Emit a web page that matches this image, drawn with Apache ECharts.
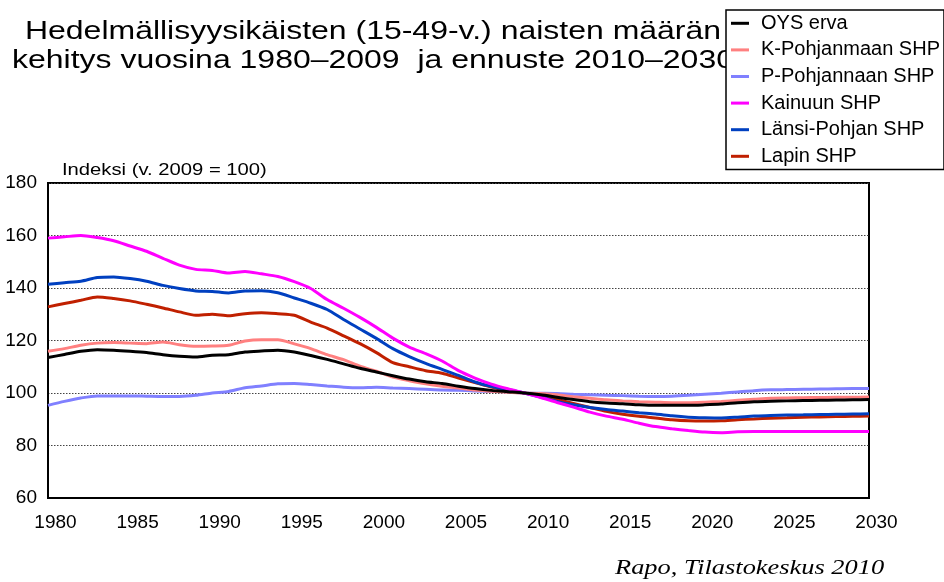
<!DOCTYPE html>
<html>
<head>
<meta charset="utf-8">
<script src="https://cdn.jsdelivr.net/npm/echarts@6/dist/echarts.min.js"></script>
<style>
html,body{margin:0;padding:0;background:#fff;}
#c{width:944px;height:582px;}
</style>
</head>
<body>
<div id="c"></div>
<script>
const years = [];
for (let y = 1980; y <= 2030; y++) years.push(y);

const seriesNames = ['OYS erva', 'K-Pohjanmaan SHP', 'P-Pohjannaan SHP', 'Kainuun SHP', 'Länsi-Pohjan SHP', 'Lapin SHP'];

const oysErva = [113.5,114.7,115.9,116.5,116.3,115.9,115.4,114.6,114.0,113.7,
  114.4,114.6,115.6,116.0,116.3,115.6,114.3,112.8,111.1,109.4,
  108.0,106.6,105.3,104.3,103.6,102.6,101.7,101.0,100.5,100.0,
  99.3,98.4,97.5,96.7,96.2,95.9,95.5,95.3,95.3,95.3,
  95.5,95.8,96.3,96.7,96.9,97.0,97.1,97.2,97.3,97.4,97.5];

const kPohjanmaa = [115.9,116.9,118.2,119.0,119.2,119.0,118.8,119.4,118.4,117.8,
  117.9,118.2,119.8,120.3,120.3,118.7,116.9,114.6,112.7,110.2,
  108.3,106.1,104.7,103.5,102.6,101.9,101.1,100.7,100.3,100.0,
  99.8,99.3,98.6,98.0,97.4,97.0,96.7,96.5,96.3,96.3,
  96.5,96.8,97.2,97.6,98.0,98.1,98.2,98.3,98.4,98.4,98.5];

const pPohjanmaa = [95.3,96.8,98.1,98.9,98.9,98.9,98.8,98.7,98.7,99.1,
  100.0,100.6,102.0,102.7,103.5,103.6,103.2,102.7,102.2,102.0,
  102.2,101.9,101.7,101.4,101.1,101.0,100.8,100.6,100.4,100.0,
  99.9,99.8,99.5,99.3,99.1,99.0,98.8,98.7,98.8,99.1,
  99.5,99.9,100.4,100.9,101.2,101.3,101.4,101.5,101.6,101.7,101.7];

const kainuu = [159.0,159.5,160.0,159.2,158.0,156.0,154.0,151.3,148.7,147.1,
  146.7,145.7,146.3,145.4,144.4,142.4,139.8,135.6,132.3,128.8,
  125.0,120.9,117.5,115.0,112.2,108.5,105.7,103.4,101.6,100.0,
  98.3,96.4,94.6,92.7,91.2,90.0,88.5,87.2,86.4,85.7,
  85.1,84.9,85.2,85.3,85.3,85.3,85.3,85.3,85.3,85.3,85.3];

const lansiPohja = [141.4,142.0,142.6,144.0,144.2,143.6,142.6,141.0,139.8,138.9,
  138.7,138.1,138.9,139.0,138.2,136.2,134.2,131.8,128.0,124.4,
  120.8,116.9,113.9,111.3,109.0,106.7,104.2,102.5,101.3,100.0,
  98.5,96.8,95.5,94.5,93.7,93.1,92.5,92.0,91.3,90.8,
  90.6,90.5,90.8,91.2,91.4,91.6,91.7,91.8,91.9,92.0,92.1];

const lappi = [132.8,134.1,135.3,136.6,136.0,135.1,133.8,132.4,130.9,129.6,
  130.0,129.4,130.2,130.6,130.2,129.6,127.0,124.7,121.8,118.8,
  115.4,111.6,110.0,108.5,107.5,105.7,104.0,102.3,101.0,100.0,
  98.9,97.5,96.0,94.5,93.0,91.9,91.1,90.5,89.8,89.4,
  89.3,89.4,89.8,90.1,90.4,90.6,90.8,90.9,91.0,91.1,91.2];

const xTicks = [1980,1985,1990,1995,2000,2005,2010,2015,2020,2025,2030];
const yTicks = [60,80,100,120,140,160,180];

const titleLines = ['Hedelmällisyysikäisten (15-49-v.) naisten määrän', 'kehitys vuosina 1980–2009  ja ennuste 2010–2030'];
const yAxisTitle = 'Indeksi (v. 2009 = 100)';
const sourceText = 'Rapo, Tilastokeskus 2010';

const colors = {
  'OYS erva': '#000000',
  'K-Pohjanmaan SHP': '#FF8080',
  'P-Pohjannaan SHP': '#8080FF',
  'Kainuun SHP': '#FF00FF',
  'Länsi-Pohjan SHP': '#0040C0',
  'Lapin SHP': '#C02000'
};
const valuesByName = {
  'OYS erva': oysErva,
  'K-Pohjanmaan SHP': kPohjanmaa,
  'P-Pohjannaan SHP': pPohjanmaa,
  'Kainuun SHP': kainuu,
  'Länsi-Pohjan SHP': lansiPohja,
  'Lapin SHP': lappi
};
const drawOrder = ['P-Pohjannaan SHP','K-Pohjanmaan SHP','Lapin SHP','Länsi-Pohjan SHP','Kainuun SHP','OYS erva'];

const FONT = '"Liberation Sans", Arial, sans-serif';
const SERIF = '"Liberation Serif", "Times New Roman", serif';

function txt(text, x, y, size, align, scaleX, family, italic) {
  return {
    type: 'text', x: x, y: y, scaleX: scaleX, scaleY: 1, z: 1,
    style: {
      text: text, fontFamily: family, fontSize: size, fontStyle: italic ? 'italic' : 'normal',
      fill: '#000', align: align, textAlign: align,
      verticalAlign: 'middle', textVerticalAlign: 'middle'
    }
  };
}

const chart = echarts.init(document.getElementById('c'), null, {renderer: 'canvas'});
chart.setOption({
  animation: false,
  backgroundColor: '#ffffff',
  legend: {
    data: seriesNames,
    orient: 'vertical',
    left: 726,
    top: 10,
    z: 20,
    padding: [0, 4, 0, 5],
    itemGap: 0,
    itemWidth: 18,
    itemHeight: 3,
    icon: 'rect',
    backgroundColor: '#ffffff',
    borderColor: '#000000',
    borderWidth: 1.5,
    borderRadius: 0,
    textStyle: {fontFamily: FONT, fontSize: 20, color: '#000', lineHeight: 26.6, padding: [0,0,0,7]}
  },
  grid: {
    left: 48, top: 183, width: 821, height: 315,
    show: true, borderColor: '#000', borderWidth: 2, containLabel: false
  },
  xAxis: {
    type: 'value', min: 1980, max: 2030, interval: 5,
    axisLine: {show: true, lineStyle: {color: '#000', width: 2}},
    axisTick: {show: false},
    splitLine: {show: false},
    axisLabel: {fontFamily: FONT, fontSize: 19, color: '#000', margin: 15, padding: [0,0,0,15],
      formatter: v => xTicks.includes(v) ? String(v) : ''}
  },
  yAxis: {
    type: 'value', min: 60, max: 180, interval: 20,
    axisLine: {show: true, lineStyle: {color: '#000', width: 2}},
    axisTick: {show: false},
    splitLine: {show: true, lineStyle: {color: '#444', width: 1, type: [1.5, 1.5]}},
    axisLabel: {fontFamily: FONT, fontSize: 19, color: '#000', margin: 11, padding: [4,0,0,0],
      formatter: v => yTicks.includes(v) ? String(v) : ''}
  },
  graphic: [
    txt(titleLines[0], 373, 32, 26, 'center', 1.23, FONT, false),
    txt(titleLines[1], 373, 61, 26, 'center', 1.23, FONT, false),
    txt(yAxisTitle, 62, 170, 17, 'left', 1.19, FONT, false),
    txt(sourceText, 615, 568, 22, 'left', 1.2, SERIF, true)
  ],
  series: drawOrder.map(name => ({
    name: name,
    type: 'line',
    data: years.map((y, i) => [y, valuesByName[name][i]]),
    showSymbol: false,
    symbol: 'none',
    smooth: 0.25,
    lineStyle: {color: colors[name], width: 3},
    itemStyle: {color: colors[name]},
    z: 3
  }))
});
</script>
</body>
</html>
